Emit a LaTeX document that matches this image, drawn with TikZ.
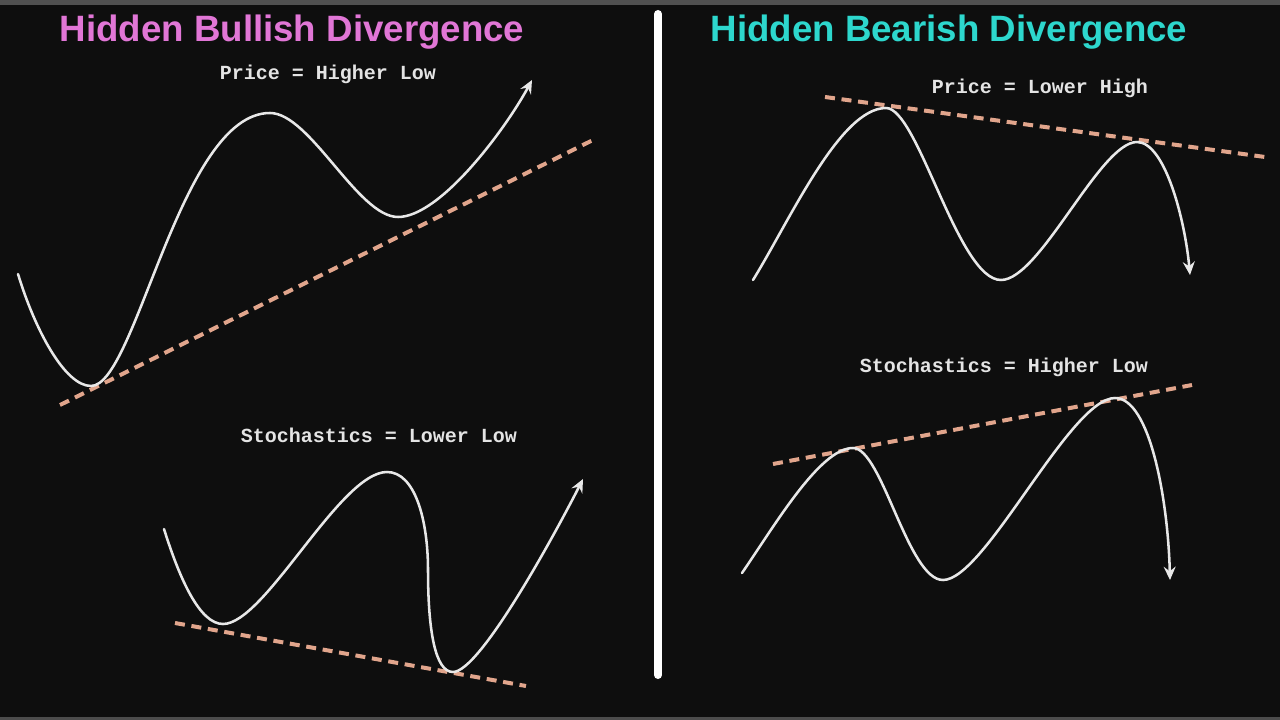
\documentclass[tikz,border=0pt]{standalone}
\usepackage{fontspec}
\setmainfont{Liberation Sans}
\newfontfamily\monofont{Liberation Mono}
\usetikzlibrary{arrows.meta}
\definecolor{bgcol}{RGB}{14,14,14}
\definecolor{pinkt}{RGB}{225,118,214}
\definecolor{cyant}{RGB}{45,215,205}
\definecolor{trendc}{RGB}{225,165,140}
\definecolor{curvec}{RGB}{232,232,232}
\definecolor{lblc}{RGB}{228,228,228}
\tikzset{
  curve/.style={draw=curvec, line width=1.9pt, line cap=round},
  trend/.style={draw=trendc, line width=3pt, dash pattern=on 7.5pt off 5pt},
  tip/.style={-{Stealth[length=10pt,width=9pt,inset=3.5pt]}},
  titletxt/.style={font=\fontsize{27.5}{30}\selectfont\bfseries, anchor=base, inner sep=0pt},
  lbl/.style={font=\monofont\bfseries\fontsize{15}{17}\selectfont, text=lblc, anchor=base, inner sep=0pt}
}
\begin{document}
\begin{tikzpicture}[x=0.75pt,y=-0.75pt]
\useasboundingbox (0,0) rectangle (1280,720);
\fill[bgcol] (0,0) rectangle (1280,720);
\fill[black!55!white!70!black] (0,0) rectangle (1280,5);
\fill[gray!60!black] (0,717) rectangle (1280,720);
% divider
\coordinate (dtop) at (658,14);
\coordinate (dbot) at (658,675);
\draw[white, line width=6pt, line cap=round] (dtop) -- (dbot);
% titles
\node[titletxt, text=pinkt] (t1) at (292,42) {Hidden Bullish Divergence};
\node[titletxt, text=cyant] (t2) at (949,42) {Hidden Bearish Divergence};
% labels
\node[lbl] (l1) at (328,80) {Price = Higher Low};
\node[lbl] (l2) at (379,442) {Stochastics = Lower Low};
\node[lbl] (l3) at (1040,94) {Price = Lower High};
\node[lbl] (l4) at (1004,372) {Stochastics = Higher Low};
% trend lines
\coordinate (a1) at (60,405); \coordinate (a2) at (593,140);
\draw[trend] (a1) -- (a2);
\coordinate (b1) at (175,623); \coordinate (b2) at (526,686);
\draw[trend] (b1) -- (b2);
\coordinate (c1) at (825,97); \coordinate (c2) at (1265,157);
\draw[trend] (c1) -- (c2);
\coordinate (d1) at (773,464); \coordinate (d2) at (1192,385);
\draw[trend] (d1) -- (d2);
% price, bullish
\draw[curve, tip] (18,274) .. controls (35,330) and (65,386) .. (91,386)
  .. controls (136,386) and (180,113) .. (270,113)
  .. controls (310,113) and (358,217) .. (398,217)
  .. controls (440,217) and (505,130) .. (532,80);
% stochastics, bullish
\draw[curve, tip] (164,529) .. controls (180,580) and (200,624) .. (223,624)
  .. controls (265,624) and (340,472) .. (387,472)
  .. controls (415,472) and (428,520) .. (428,570)
  .. controls (428,630) and (435,672) .. (453,672)
  .. controls (480,672) and (555,534) .. (583,479);
% price, bearish
\draw[curve, tip] (753,280) .. controls (790,220) and (840,108) .. (886,108)
  .. controls (918,108) and (958,280) .. (1001,280)
  .. controls (1040,280) and (1100,142) .. (1137,142)
  .. controls (1165,142) and (1185,220) .. (1190,275);
% stochastics, bearish
\draw[curve, tip] (742,573) .. controls (775,525) and (820,448) .. (853,448)
  .. controls (882,448) and (908,580) .. (943,580)
  .. controls (985,580) and (1070,398) .. (1115,398)
  .. controls (1150,398) and (1168,500) .. (1170,580);
\end{tikzpicture}
\end{document}
